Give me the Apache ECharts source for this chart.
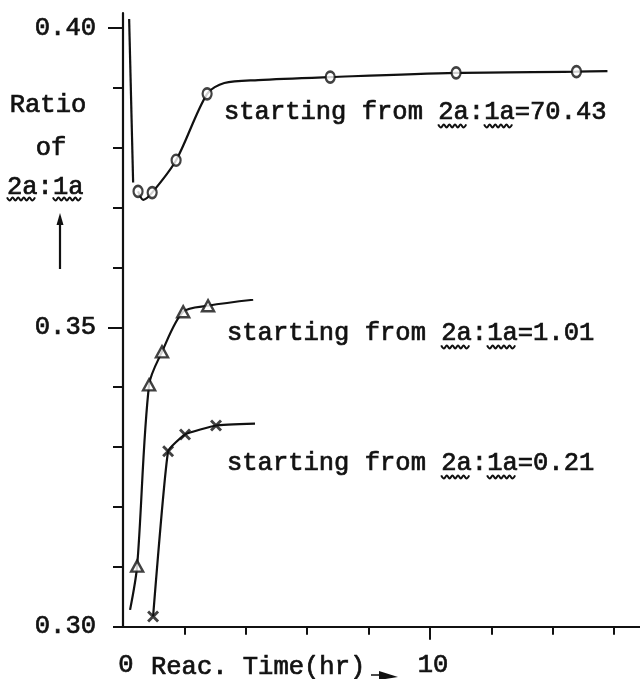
<!DOCTYPE html>
<html>
<head>
<meta charset="utf-8">
<style>html,body{margin:0;padding:0;background:#fff;}#c{width:640px;height:679px;}</style>
<script src="https://cdn.jsdelivr.net/npm/echarts@6/dist/echarts.min.js"></script>
</head>
<body>
<div id="c"></div>
<script>
// ---- data (hours, ratio 2a:1a) ----
const xTickValues = [2, 4, 6, 8, 10, 12, 14, 16];
const xLabelValues = [0, 10];
const yTickValues = [0.30, 0.31, 0.32, 0.33, 0.34, 0.35, 0.36, 0.37, 0.38, 0.39, 0.40];
const yLabelValues = [0.30, 0.35, 0.40];

// starting from 2a:1a = 70.43 (circles)
const leadA = [[0.20, 0.4015], [0.33, 0.3742]];
const curveA = [[0.49, 0.3727], [0.66, 0.3713], [0.95, 0.3725], [1.73, 0.3779], [2.74, 0.3890], [3.30, 0.3908], [4.4, 0.3913], [6.75, 0.3918], [10.85, 0.3925], [14.77, 0.3927], [15.78, 0.3928]];
const pointsA = [[0.49, 0.3727], [0.95, 0.3725], [1.73, 0.3779], [2.74, 0.3890], [6.75, 0.3918], [10.85, 0.3925], [14.77, 0.3927]];

// starting from 2a:1a = 1.01 (triangles)
const curveB = [[0.23, 0.3028], [0.46, 0.3101], [0.85, 0.3404], [1.27, 0.3459], [1.96, 0.3526], [2.77, 0.3536], [4.24, 0.3546]];
const pointsB = [[0.46, 0.3101], [0.85, 0.3404], [1.27, 0.3459], [1.96, 0.3526], [2.77, 0.3536]];

// starting from 2a:1a = 0.21 (crosses)
const curveC = [[0.98, 0.3017], [1.47, 0.3293], [2.02, 0.3321], [3.03, 0.3336], [4.30, 0.3339]];
const pointsC = [[0.98, 0.3017], [1.47, 0.3293], [2.02, 0.3321], [3.03, 0.3336]];

const annotations = [
  { text: 'starting from 2a:1a=70.43', x: 224, y: 112 },
  { text: 'starting from 2a:1a=1.01', x: 227, y: 333 },
  { text: 'starting from 2a:1a=0.21', x: 227, y: 463 }
];

// ---- styles ----
const INK = '#111';
const FS = 25.5;
const CW = FS * 0.6;
const FAMILY = '"Liberation Mono", "DejaVu Sans Mono", monospace';
const FONT = FS + 'px ' + FAMILY;
const TB = 0.7; // slight stroke to mimic typewriter weight
const crossPath = 'path://M0,1.7L1.7,0L5,3.3L8.3,0L10,1.7L6.7,5L10,8.3L8.3,10L5,6.7L1.7,10L0,8.3L3.3,5Z';

function wave(x1, x2, y) {
  const pts = [];
  let up = true;
  for (let x = x1; x <= x2 + 0.01; x += 2.8) { pts.push([x, y + (up ? -1.6 : 1.6)]); up = !up; }
  return { type: 'polyline', shape: { points: pts, smooth: 0.4 }, style: { stroke: INK, lineWidth: 2, fill: null } };
}
function txt(text, x, y, align) {
  return { type: 'text', x: x, y: y, style: { text: text, font: FONT, fill: INK, stroke: INK, lineWidth: TB, align: align || 'left', verticalAlign: 'middle' } };
}

const graphics = [];
annotations.forEach(a => {
  graphics.push(txt(a.text, a.x, a.y));
  graphics.push(wave(a.x + 14 * CW, a.x + 16 * CW - 2, a.y + 14));
  graphics.push(wave(a.x + 17 * CW, a.x + 19 * CW - 2, a.y + 14));
});
// y-axis title
graphics.push(txt('Ratio', 48, 105, 'center'));
graphics.push(txt('of', 51, 148, 'center'));
graphics.push(txt('2a:1a', 7, 187));
graphics.push(wave(7, 7 + 2 * CW - 1, 199));
graphics.push(wave(7 + 3 * CW, 7 + 5 * CW - 1, 199));
graphics.push({ type: 'line', shape: { x1: 60, y1: 269, x2: 60, y2: 222 }, style: { stroke: INK, lineWidth: 2.2 } });
graphics.push({ type: 'polygon', shape: { points: [[60, 213], [56.5, 225], [63.5, 225]] }, style: { fill: INK } });
// x-axis title
graphics.push(txt('Reac. Time(hr)', 151, 667));
graphics.push({ type: 'line', shape: { x1: 371, y1: 675, x2: 380, y2: 675 }, style: { stroke: INK, lineWidth: 1.5 } });
graphics.push({ type: 'polygon', shape: { points: [[379, 671], [398, 677], [379, 680]] }, style: { fill: INK } });

const lineBase = { type: 'line', showSymbol: false, symbol: 'none', lineStyle: { color: INK, width: 2.2 }, z: 2, silent: true };
const scatterBase = { type: 'scatter', z: 5, silent: true, itemStyle: { color: '#fff', borderColor: INK, borderWidth: 2.4 } };
const labelBase = { color: INK, fontFamily: FAMILY, fontSize: FS, textBorderColor: INK, textBorderWidth: TB };

const chart = echarts.init(document.getElementById('c'), null, { renderer: 'canvas' });
chart.setOption({
  animation: false,
  backgroundColor: '#fff',
  grid: { left: 123, right: 0, top: 13, bottom: 51 },
  xAxis: [
    {
      type: 'value', min: 0, max: 16.84, position: 'bottom',
      axisLine: { show: true, onZero: false, lineStyle: { color: INK, width: 2.2 } },
      axisTick: { show: true, customValues: xTickValues, length: 8, lineStyle: { color: INK, width: 2 } },
      axisLabel: Object.assign({ show: true, customValues: xLabelValues, margin: 26, padding: [0, 0, 0, 6], formatter: v => String(v) }, labelBase),
      splitLine: { show: false }
    },
    {
      type: 'value', min: 0, max: 16.84, position: 'bottom',
      axisLine: { show: false },
      axisTick: { show: true, customValues: [10], length: 13, lineStyle: { color: INK, width: 2 } },
      axisLabel: { show: false },
      splitLine: { show: false }
    }
  ],
  yAxis: [
    {
      type: 'value', min: 0.30, max: 0.4025, position: 'left',
      axisLine: { show: true, onZero: false, lineStyle: { color: INK, width: 2.2 } },
      axisTick: { show: true, customValues: yTickValues, length: 10, lineStyle: { color: INK, width: 2 } },
      axisLabel: Object.assign({ show: true, customValues: yLabelValues, margin: 27, padding: [10, 0, 0, 0], formatter: v => v.toFixed(2) }, labelBase),
      splitLine: { show: false }
    },
    {
      type: 'value', min: 0.30, max: 0.4025, position: 'left',
      axisLine: { show: false },
      axisTick: { show: true, customValues: [0.35, 0.40], length: 15, lineStyle: { color: INK, width: 2 } },
      axisLabel: { show: false },
      splitLine: { show: false }
    }
  ],
  series: [
    Object.assign({}, lineBase, { data: leadA }),
    Object.assign({}, lineBase, { data: curveA, smooth: 0.3 }),
    Object.assign({}, scatterBase, { data: pointsA, symbol: 'circle', symbolSize: [9, 11] }),
    Object.assign({}, lineBase, { data: curveB, smooth: 0.3 }),
    Object.assign({}, scatterBase, { data: pointsB, symbol: 'triangle', symbolSize: [12, 11] }),
    Object.assign({}, lineBase, { data: curveC, smooth: 0.12 }),
    Object.assign({}, scatterBase, { data: pointsC, symbol: crossPath, symbolSize: 12, itemStyle: { color: INK, borderWidth: 0 } })
  ],
  graphic: graphics
});
</script>
</body>
</html>
